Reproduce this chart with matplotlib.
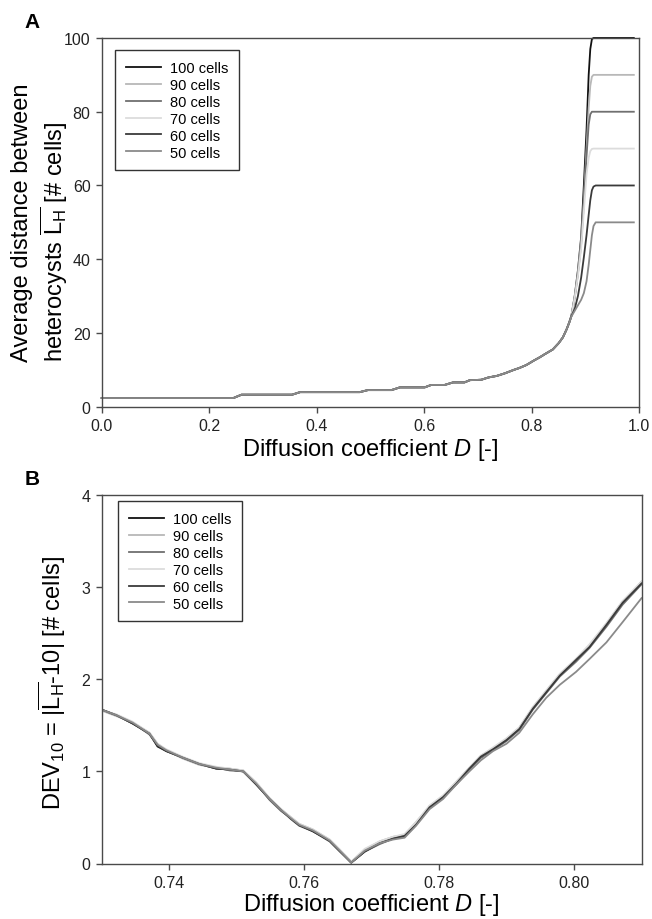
import matplotlib
matplotlib.use('Agg')
import matplotlib.pyplot as plt
from matplotlib.ticker import FormatStrFormatter

plt.rcParams['font.family'] = ['Liberation Sans', 'DejaVu Sans']
plt.rcParams['mathtext.fontset'] = 'custom'
plt.rcParams['mathtext.rm'] = 'Liberation Sans'
plt.rcParams['mathtext.it'] = 'Liberation Sans:italic'
plt.rcParams['mathtext.bf'] = 'Liberation Sans:bold'

# --- data ---------------------------------------------------------------
series = ['100 cells', '90 cells', '80 cells', '70 cells', '60 cells', '50 cells']

# panel A: shared part of the curve (all filament lengths overlap)
d_common = [0.000, 0.245, 0.260, 0.354, 0.369, 0.480, 0.495, 0.539, 0.555, 0.601,
            0.613, 0.638, 0.654, 0.675, 0.685, 0.706, 0.720, 0.735, 0.750, 0.767,
            0.777, 0.790, 0.805, 0.815, 0.825, 0.839, 0.850, 0.858, 0.865, 0.870]
l_common = [2.35, 2.35, 3.25, 3.25, 3.95, 3.95, 4.5, 4.5, 5.25, 5.25,
            5.9, 5.9, 6.6, 6.6, 7.2, 7.3, 7.95, 8.35, 9.05, 10.0,
            10.5, 11.3, 12.6, 13.4, 14.3, 15.5, 17.2, 18.8, 21.0, 22.9]

# panel A: rise to the plateau, one list per filament length
d_rise = [0.874, 0.880, 0.886, 0.892, 0.897, 0.902, 0.906, 0.909, 0.912, 0.915, 0.919, 0.990]
l_rise_100 = [24.7, 30.0, 37.0, 46.0, 60.0, 75.0, 90.0, 97.0, 99.7, 100, 100, 100]
l_rise_90 = [24.7, 30.0, 36.5, 45.0, 56.0, 70.0, 81.0, 87.0, 89.5, 90, 90, 90]
l_rise_80 = [24.7, 29.5, 36.0, 44.0, 55.0, 68.0, 76.5, 79.3, 80.0, 80, 80, 80]
l_rise_70 = [24.7, 29.5, 35.5, 43.0, 53.0, 63.0, 67.5, 69.3, 69.9, 70, 70, 70]
l_rise_60 = [24.7, 26.5, 30.0, 35.0, 40.5, 46.5, 52.0, 56.0, 58.7, 59.7, 60, 60]
l_rise_50 = [24.5, 26.0, 27.5, 29.0, 30.8, 34.0, 38.5, 42.5, 46.5, 49.0, 50, 50]

# panel B: deviation from 10 cells
d_dev = [0.7300, 0.7322, 0.7346, 0.7371, 0.7383, 0.7396, 0.7420, 0.7445, 0.7470, 0.7490,
         0.7510, 0.7529, 0.7549, 0.7566, 0.7581, 0.7593, 0.7613, 0.7638, 0.7653, 0.7670,
         0.7690, 0.7712, 0.7732, 0.7749, 0.7766, 0.7786, 0.7806, 0.7826, 0.7845, 0.7862,
         0.7880, 0.7900, 0.7919, 0.7939, 0.7959, 0.7979, 0.8003, 0.8023, 0.8048, 0.8072,
         0.8100]
dev_100 = [1.67, 1.61, 1.52, 1.41, 1.27, 1.22, 1.15, 1.08, 1.03, 1.02,
           1.00, 0.86, 0.70, 0.58, 0.49, 0.42, 0.35, 0.25, 0.14, 0.01,
           0.13, 0.22, 0.27, 0.31, 0.43, 0.62, 0.73, 0.87, 1.03, 1.15,
           1.24, 1.35, 1.47, 1.69, 1.87, 2.05, 2.21, 2.36, 2.60, 2.84, 3.05]
dev_90 = [1.66, 1.60, 1.53, 1.42, 1.30, 1.23, 1.14, 1.07, 1.04, 1.03,
          1.01, 0.88, 0.71, 0.59, 0.50, 0.43, 0.37, 0.26, 0.15, 0.02,
          0.15, 0.24, 0.29, 0.31, 0.45, 0.62, 0.73, 0.89, 1.04, 1.17,
          1.25, 1.35, 1.47, 1.68, 1.86, 2.05, 2.22, 2.37, 2.59, 2.83, 3.06]
dev_80 = [1.67, 1.61, 1.53, 1.40, 1.29, 1.23, 1.15, 1.08, 1.04, 1.01,
          1.00, 0.87, 0.69, 0.57, 0.49, 0.42, 0.36, 0.25, 0.14, 0.01,
          0.13, 0.21, 0.27, 0.29, 0.42, 0.60, 0.72, 0.86, 1.02, 1.15,
          1.23, 1.33, 1.45, 1.67, 1.85, 2.03, 2.19, 2.34, 2.57, 2.81, 3.03]
dev_70 = [1.66, 1.62, 1.54, 1.42, 1.30, 1.24, 1.16, 1.09, 1.05, 1.03,
          1.01, 0.88, 0.71, 0.59, 0.50, 0.43, 0.37, 0.26, 0.15, 0.02,
          0.16, 0.24, 0.29, 0.32, 0.45, 0.63, 0.74, 0.89, 1.04, 1.17,
          1.26, 1.36, 1.48, 1.70, 1.88, 2.06, 2.22, 2.38, 2.61, 2.85, 3.06]
dev_60 = [1.67, 1.61, 1.52, 1.41, 1.28, 1.22, 1.15, 1.08, 1.03, 1.02,
          1.00, 0.86, 0.70, 0.58, 0.48, 0.41, 0.35, 0.24, 0.13, 0.01,
          0.13, 0.22, 0.27, 0.30, 0.42, 0.61, 0.72, 0.87, 1.03, 1.16,
          1.24, 1.34, 1.46, 1.68, 1.86, 2.04, 2.21, 2.35, 2.59, 2.83, 3.04]
dev_50 = [1.67, 1.61, 1.53, 1.41, 1.29, 1.23, 1.15, 1.08, 1.04, 1.02,
          1.00, 0.87, 0.70, 0.58, 0.49, 0.42, 0.36, 0.25, 0.14, 0.01,
          0.14, 0.22, 0.26, 0.28, 0.41, 0.59, 0.70, 0.86, 1.00, 1.12,
          1.22, 1.30, 1.42, 1.62, 1.80, 1.94, 2.08, 2.22, 2.40, 2.62, 2.88]

l_rise = [l_rise_100, l_rise_90, l_rise_80, l_rise_70, l_rise_60, l_rise_50]
devs = [dev_100, dev_90, dev_80, dev_70, dev_60, dev_50]

# --- style --------------------------------------------------------------
colors = ['#111111', '#b8b8b8', '#707070', '#dcdcdc', '#3a3a3a', '#8a8a8a']
spine_col = '#4a4a4a'
W, H = 652, 920
LABEL_FS = 17

fig = plt.figure(figsize=(W / 100, H / 100), dpi=100)
ax_a = fig.add_axes([101.7 / W, 1 - 407.7 / H, 537.5 / W, 368.7 / H])
ax_b = fig.add_axes([101.5 / W, 1 - 864.5 / H, 540.0 / W, 368.5 / H])


def style_axes(ax):
    for sp in ax.spines.values():
        sp.set_color(spine_col)
        sp.set_linewidth(1.0)
    ax.tick_params(direction='out', length=4, width=1.0, color=spine_col,
                   labelsize=11.5, labelcolor='#222222', pad=4)


def add_legend(ax, anchor):
    leg = ax.legend(loc='upper left', bbox_to_anchor=anchor, borderaxespad=0,
                    fancybox=False, framealpha=1, edgecolor='#333333', fontsize=10.5,
                    handlelength=2.4, handletextpad=0.6, labelspacing=0.2,
                    borderpad=0.75)
    leg.get_frame().set_linewidth(1.0)


# panel A
for name, col, lr in zip(series, colors, l_rise):
    ax_a.plot(d_common + d_rise, l_common + lr, color=col, lw=1.3, label=name,
              clip_on=False, solid_joinstyle='round')
ax_a.set_xlim(0, 1)
ax_a.set_ylim(0, 100)
ax_a.set_xticks([0, 0.2, 0.4, 0.6, 0.8, 1.0])
ax_a.set_yticks([0, 20, 40, 60, 80, 100])
ax_a.xaxis.set_major_formatter(FormatStrFormatter('%.1f'))
style_axes(ax_a)
ax_a.set_xlabel(r'Diffusion coefficient $D$ [-]', fontsize=LABEL_FS, labelpad=2)
add_legend(ax_a, (0.0247, 0.9675))

# panel B
for name, col, dv in zip(series, colors, devs):
    ax_b.plot(d_dev, dv, color=col, lw=1.3, label=name, solid_joinstyle='round')
ax_b.set_xlim(0.73, 0.81)
ax_b.set_ylim(0, 4)
ax_b.set_xticks([0.74, 0.76, 0.78, 0.80])
ax_b.set_yticks([0, 1, 2, 3, 4])
ax_b.xaxis.set_major_formatter(FormatStrFormatter('%.2f'))
style_axes(ax_b)
ax_b.set_xlabel(r'Diffusion coefficient $D$ [-]', fontsize=LABEL_FS, labelpad=1)
add_legend(ax_b, (0.0306, 0.9837))

# y labels placed by hand (two-line label is start-aligned in the original)
fig.text(22 / W, 1 - 362 / H, 'Average distance between', rotation=90,
         ha='center', va='bottom', fontsize=LABEL_FS)
fig.text(54 / W, 1 - 362 / H, r'heterocysts $\overline{\mathrm{L}_{\mathrm{H}}}$ [# cells]',
         rotation=90, ha='center', va='bottom', fontsize=LABEL_FS)
fig.text(52 / W, 1 - 683 / H, r'DEV$_{10}$ = |$\overline{\mathrm{L}_{\mathrm{H}}}$-10| [# cells]',
         rotation=90, ha='center', va='center', fontsize=LABEL_FS)

fig.text(32 / W, 1 - 22 / H, 'A', fontsize=15, fontweight='bold', ha='center', va='center')
fig.text(32 / W, 1 - 480 / H, 'B', fontsize=15, fontweight='bold', ha='center', va='center')

fig.savefig('out.png', dpi=100)
